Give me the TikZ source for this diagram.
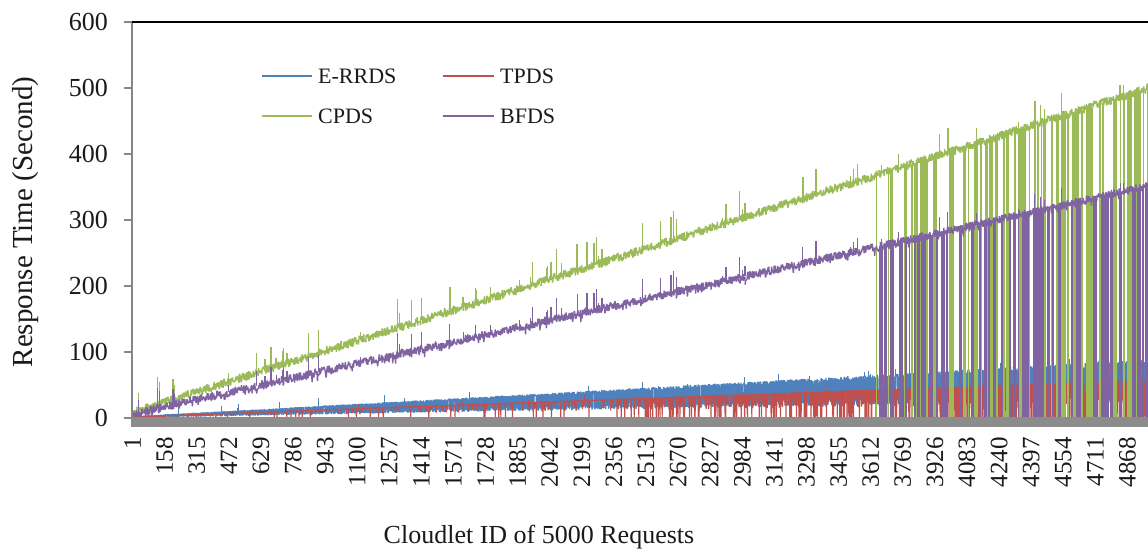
\documentclass[tikz,border=0pt]{standalone}
\usepackage{fontspec}
\setmainfont{Liberation Serif}
\definecolor{erblue}{HTML}{4F81BD}
\definecolor{tpred}{HTML}{C0504D}
\definecolor{cpgreen}{HTML}{9BBB59}
\definecolor{bfpurple}{HTML}{8064A2}
\definecolor{axgray}{HTML}{868686}
\definecolor{txt}{HTML}{1A1A1A}
\newcommand\ytickfont{\fontsize{26bp}{30bp}\selectfont}
\newcommand\xtickfont{\fontsize{25bp}{28bp}\selectfont}
\newcommand\titlefont{\fontsize{26bp}{30bp}\selectfont}
\newcommand\ytitlefont{\fontsize{29bp}{32bp}\selectfont}
\newcommand\legfont{\fontsize{22bp}{25bp}\selectfont}
% noisy series drawn in short pieces (keeps each path small)
\newcommand\noisyseries[3]{%
  \foreach \segstart in {0,500,...,4500}{%
    \pgfmathtruncatemacro\segend{\segstart+500}%
    \draw[#1] plot[domain=\segstart:\segend, samples=#2] (\x,{#3});
  }}
\tikzset{
  erline/.style={erblue, line width=1.2bp, line join=bevel},
  tpline/.style={tpred, line width=1.1bp, line join=bevel},
  cpline/.style={cpgreen, line width=1.4bp, line join=bevel},
  bfline/.style={bfpurple, line width=1.4bp, line join=bevel},
  cpvert/.style={cpgreen, line width=1.3bp},
  bfvert/.style={bfpurple, line width=1.5bp},
  ervert/.style={erblue, line width=1bp},
  tpvert/.style={tpred, line width=1bp},
  axisline/.style={axgray, line width=1.6bp},
  ytick/.style={anchor=east, inner sep=0pt, text=txt, font=\ytickfont},
  xtick/.style={rotate=90, anchor=east, inner sep=0pt, text=txt, font=\xtickfont},
  legtext/.style={anchor=west, inner sep=0pt, text=txt, font=\legfont},
  legline/.style={line width=1.5bp},
}
\begin{document}
\begin{tikzpicture}[x=1bp,y=1bp]
\useasboundingbox[fill=white] (0,0) rectangle (1148,556);

% ---- data (category i, response time in seconds)
\begin{scope}[xshift=131.9bp,yshift=138bp,x=0.2044bp,y=0.66bp]
  \pgfmathsetseed{12}
  % E-RRDS: wide noisy band
  \noisyseries{erline}{501}{(2+0.0166*\x)*(rnd<0.5 ? 1+0.05*rand : 0.42+0.1*rand)}
  \foreach \k in {1,...,30}{%
    \pgfmathsetmacro\si{200+rnd*4750}%
    \pgfmathsetmacro\sb{2+0.0166*\si}%
    \draw[ervert] (\si,\sb) -- (\si,{\sb+4+rnd*9});
  }
  % TPDS: line with frequent drops
  \noisyseries{tpline}{501}{(rnd < 0.03+0.2*(\x/5000)*(\x/5000)+0.7*(\x/5000)*(\x/5000)*(\x/5000)) ? (1.5+0.0112*\x)*(rnd<0.35 ? 0.03 : 0.4+0.4*rnd) : 1.5+0.0112*\x+0.8*rand}
  \foreach \k in {1,...,20}{%
    \pgfmathsetmacro\si{100+rnd*4850}%
    \pgfmathsetmacro\sb{1.5+0.0112*\si}%
    \draw[tpvert] (\si,\sb) -- (\si,{\sb+3+rnd*6});
  }
  % CPDS
  \noisyseries{cpline}{251}{8+0.0988*\x+7*rand}
  \pgfmathsetseed{31}
  \foreach \k in {1,...,66}{%
    \pgfmathsetmacro\si{20+rnd*4930}%
    \pgfmathsetmacro\sh{10+rnd*36}%
    \pgfmathsetmacro\sb{8+0.0988*\si}%
    \draw[cpvert] (\si,\sb) -- (\si,{\sb+\sh});
  }
  \pgfmathsetseed{47}
  \foreach \k in {1,...,92}{%
    \pgfmathsetmacro\di{3615+rnd*1385}%
    \pgfmathsetmacro\dw{1.1+rnd*1.6}%
    \draw[cpvert, line width=\dw bp] (\di,0) -- (\di,{8+0.0988*\di});
  }
  % BFDS
  \pgfmathsetseed{58}
  \noisyseries{bfline}{251}{6+0.0695*\x+6.5*rand-(rnd<0.15 ? 8*rnd : 0)}
  \pgfmathsetseed{31}
  \foreach \k in {1,...,66}{%
    \pgfmathsetmacro\si{20+rnd*4930}%
    \pgfmathsetmacro\sh{10+rnd*36}%
    \pgfmathsetmacro\sb{6+0.0695*\si}%
    \draw[bfvert, line width=1.2bp] (\si,\sb) -- (\si,{\sb+0.75*\sh});
  }
  \pgfmathsetseed{73}
  \foreach \k in {1,...,88}{%
    \pgfmathsetmacro\di{3615+rnd*1385}%
    \pgfmathsetmacro\dw{1.2+rnd*2}%
    \draw[bfvert, line width=\dw bp] (\di,0) -- (\di,{6+0.0695*\di});
  }
\end{scope}

% ---- axes
\fill[axgray!95] (131,129) rectangle (1148,139);
\draw[axisline] (132,138) -- (132,534);
\draw[black, line width=1.8bp] (132,534) -- (1148,534);
\foreach \v in {0,...,6}{%
  \draw[axisline] (124,{138+66*\v}) -- (132,{138+66*\v});
  \pgfmathtruncatemacro\lab{100*\v}%
  \node[ytick] (ylab\v) at (108,{138+66*\v}) {\lab};
}
\foreach \k in {0,...,31}{%
  \pgfmathtruncatemacro\lab{1+157*\k}%
  \node[xtick] (xlab\k) at ({132.5+(\lab-0.5)*0.2044},119) {\lab};
}
\node[rotate=90, text=txt, font=\ytitlefont, inner sep=0pt] (ytitle) at (26,334) {Response Time (Second)};
\node[anchor=base, text=txt, font=\titlefont, inner sep=0pt] (xtitle) at (539,12) {Cloudlet ID of 5000 Requests};

% ---- legend
\coordinate (la1) at (262,480); \coordinate (lb1) at (312,480);
\coordinate (la2) at (443,480); \coordinate (lb2) at (494,480);
\coordinate (la3) at (262,440); \coordinate (lb3) at (312,440);
\coordinate (la4) at (443,440); \coordinate (lb4) at (494,440);
\draw[legline, erblue] (la1) -- (lb1);
\draw[legline, tpred] (la2) -- (lb2);
\draw[legline, cpgreen] (la3) -- (lb3);
\draw[legline, bfpurple] (la4) -- (lb4);
\node[legtext] (leg1) at (318,480) {E-RRDS};
\node[legtext] (leg2) at (500,480) {TPDS};
\node[legtext] (leg3) at (318,440) {CPDS};
\node[legtext] (leg4) at (500,440) {BFDS};
\end{tikzpicture}
\end{document}
